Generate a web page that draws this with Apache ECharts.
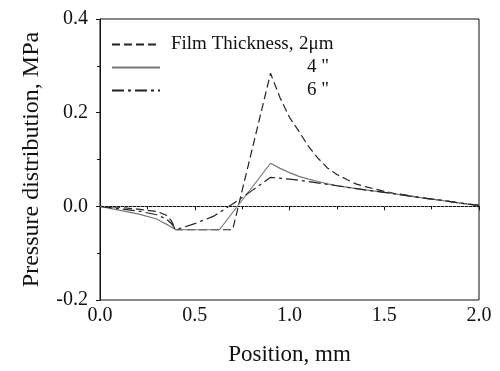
<!DOCTYPE html>
<html>
<head>
<meta charset="utf-8">
<script src="https://cdn.jsdelivr.net/npm/echarts@6/dist/echarts.min.js"></script>
<style>
  html, body { margin: 0; padding: 0; background: #fff; }
  #chart { width: 500px; height: 371px; }
</style>
</head>
<body>
<div id="chart"></div>
<script>
// film thickness 2 um
const pos2 = [0, 0.1, 0.2, 0.3, 0.35, 0.375, 0.39, 0.4, 0.55, 0.7, 0.9, 0.95, 1.0, 1.05, 1.1, 1.15, 1.2, 1.25, 1.3, 1.35, 1.4, 1.45, 1.5, 1.55, 1.6, 1.7, 1.8, 1.9, 2.0];
const p2   = [0, -0.002, -0.006, -0.011, -0.019, -0.03, -0.042, -0.05, -0.05, -0.05, 0.284, 0.232, 0.19, 0.16, 0.128, 0.103, 0.082, 0.068, 0.058, 0.048, 0.042, 0.037, 0.032, 0.028, 0.025, 0.018, 0.013, 0.007, 0.002];
// 4 um
const pos4 = [0, 0.1, 0.2, 0.3, 0.325, 0.35, 0.375, 0.4, 0.5, 0.63, 0.9, 0.95, 1.0, 1.05, 1.1, 1.15, 1.2, 1.25, 1.3, 1.4, 1.5, 1.6, 1.7, 1.8, 1.9, 2.0];
const p4   = [0, -0.008, -0.016, -0.027, -0.033, -0.038, -0.044, -0.05, -0.05, -0.05, 0.092, 0.081, 0.072, 0.064, 0.058, 0.053, 0.048, 0.044, 0.041, 0.035, 0.030, 0.024, 0.018, 0.013, 0.007, 0.002];
// 6 um
const pos6 = [0, 0.1, 0.2, 0.3, 0.35, 0.375, 0.4, 0.5, 0.6, 0.7, 0.8, 0.9, 1.0, 1.1, 1.2, 1.25, 1.3, 1.4, 1.5, 1.6, 1.7, 1.8, 1.9, 2.0];
const p6   = [0, -0.005, -0.01, -0.018, -0.027, -0.036, -0.05, -0.037, -0.021, 0.005, 0.033, 0.062, 0.058, 0.053, 0.047, 0.044, 0.041, 0.035, 0.030, 0.024, 0.018, 0.013, 0.007, 0.002];

const names = ["2", "4", "6"];

const zip = (xs, ys) => xs.map((x, i) => [x, ys[i]]);
const font = "Liberation Serif";
const ink = "#111";

const chart = echarts.init(document.getElementById("chart"));

const option = {
    backgroundColor: "#fff",
    animation: false,
    grid: {
        left: 100, right: 21, top: 19, bottom: 71,
        show: true, borderColor: ink, borderWidth: 1
    },
    legend: {
        orient: "vertical",
        left: 106, top: 30,
        itemWidth: 48, itemHeight: 10,
        itemGap: 4,
        itemStyle: { opacity: 0 },
        textStyle: {
            fontFamily: font, fontSize: 19, color: ink,
            rich: {
                a: { fontFamily: font, fontSize: 19, color: ink, width: 128, padding: [0, 0, 0, 6] },
                b: { fontFamily: font, fontSize: 19, color: ink },
                c: { fontFamily: font, fontSize: 19, color: ink, padding: [0, 0, 0, 8] }
            }
        },
        formatter: n => n === "2"
            ? "{a|Film Thickness,}{b|2μm}"
            : "{a|}{c|" + n + " \"}"
    },
    xAxis: {
        type: "value",
        min: 0, max: 2, interval: 0.5,
        name: "Position, mm",
        nameLocation: "middle",
        nameGap: 43,
        nameTextStyle: { fontFamily: font, fontSize: 23, color: ink },
        axisLine: { lineStyle: { color: ink } },
        axisTick: { show: true, length: 4, lineStyle: { color: ink } },
        minorTick: { show: true, splitNumber: 2, length: 3, lineStyle: { color: ink } },
        splitLine: { show: false },
        axisLabel: {
            fontFamily: font, fontSize: 20, color: ink, margin: 6,
            formatter: v => v.toFixed(1)
        }
    },
    yAxis: {
        type: "value",
        min: -0.2, max: 0.4, interval: 0.2,
        name: "Pressure distribution, MPa",
        nameLocation: "middle",
        nameGap: 56,
        nameTextStyle: { fontFamily: font, fontSize: 24, color: ink },
        axisLine: { show: true, lineStyle: { color: ink } },
        axisTick: { show: true, length: 4, lineStyle: { color: ink } },
        minorTick: { show: true, splitNumber: 2, length: 3, lineStyle: { color: ink } },
        splitLine: { show: false },
        axisLabel: {
            fontFamily: font, fontSize: 20, color: ink, margin: 12,
            formatter: v => v.toFixed(1)
        }
    },
    series: [
        {
            name: names[0], type: "line", symbol: "none",
            data: zip(pos2, p2),
            itemStyle: { color: "#222" },
            lineStyle: { color: "#222", width: 1.2, type: [8, 4] },
            markLine: {
                silent: true, symbol: "none", label: { show: false },
                lineStyle: { color: "#888", width: 1, type: [1, 3] },
                data: [{ yAxis: 0 }]
            }
        },
        {
            name: names[1], type: "line", symbol: "none",
            data: zip(pos4, p4),
            itemStyle: { color: "#777" },
            lineStyle: { color: "#777", width: 1.2, type: "solid" }
        },
        {
            name: names[2], type: "line", symbol: "none",
            data: zip(pos6, p6),
            itemStyle: { color: "#222" },
            lineStyle: { color: "#222", width: 1.2, type: [12, 4, 3, 4] }
        }
    ]
};

chart.setOption(option);
</script>
</body>
</html>
